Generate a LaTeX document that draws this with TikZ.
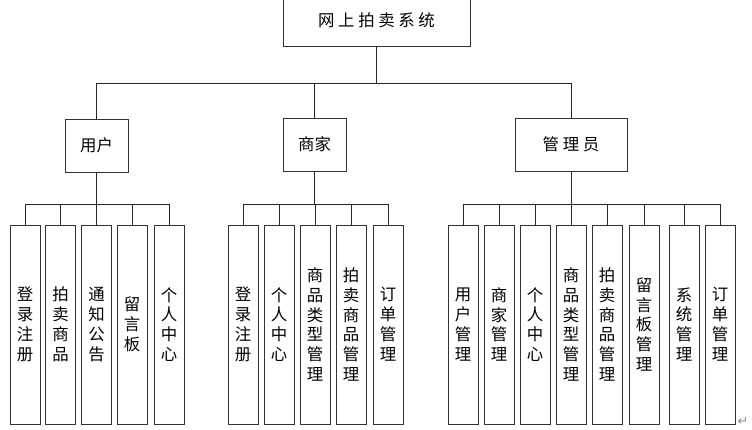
\documentclass[tikz,border=0pt]{standalone}
\usepackage{fontspec}
\newfontfamily\cjk{Noto Sans CJK SC}
\newfontfamily\symfont{DejaVu Sans}
\usepackage{tikz}
\usetikzlibrary{calc, positioning}

\tikzset{
    box/.style={draw=black!80, line width=0.8pt, fill=white, inner sep=0pt,
        font=\cjk\fontsize{14}{16}\selectfont},
    leafbox/.style={box, minimum width=0.9cm, minimum height=5.97cm, align=center,
        font=\cjk\fontsize{14}{17}\selectfont},
    link/.style={draw=black!85, line width=0.8pt}
}

\begin{document}
\begin{tikzpicture}[x=0.03cm, y=-0.03cm]

    % =================================================================
    % 1. KHUNG VA CAC DUONG NGANG
    % =================================================================
    \useasboundingbox (0,0) rectangle (752,430);
    \coordinate (bus0) at (0,83);
    \coordinate (bus1) at (0,204);

    % =================================================================
    % 2. CAC HOP CHINH
    % =================================================================
    \node[box, minimum width=5.61cm, minimum height=1.56cm] (root) at (376.5,20) {网 上 拍 卖 系 统};
    \node[box, minimum width=1.89cm, minimum height=1.59cm] (user) at (96.5,145.5) {用户};
    \node[box, minimum width=1.89cm, minimum height=1.59cm] (shop) at (314.5,144.5) {商家};
    \node[box, minimum width=3.36cm, minimum height=1.59cm] (admin) at (571,144.5) {管 理 员};

    % =================================================================
    % 3. CAC HOP CON
    % =================================================================
    % nhom nguoi dung
    \node[leafbox] (u1) at (25,324.5) {登\\录\\注\\册};
    \node[leafbox] (u2) at (60.5,324.5) {拍\\卖\\商\\品};
    \node[leafbox] (u3) at (96.5,324.5) {通\\知\\公\\告};
    \node[leafbox] (u4) at (132,324.5) {留\\言\\板};
    \node[leafbox] (u5) at (169,324.5) {个\\人\\中\\心};

    % nhom thuong gia
    \node[leafbox] (s1) at (243,324.5) {登\\录\\注\\册};
    \node[leafbox] (s2) at (279,324.5) {个\\人\\中\\心};
    \node[leafbox] (s3) at (315,324.5) {商\\品\\类\\型\\管\\理};
    \node[leafbox] (s4) at (351,324.5) {拍\\卖\\商\\品\\管\\理};
    \node[leafbox] (s5) at (388,324.5) {订\\单\\管\\理};

    % nhom quan tri
    \node[leafbox] (a1) at (463,324.5) {用\\户\\管\\理};
    \node[leafbox] (a2) at (499,324.5) {商\\家\\管\\理};
    \node[leafbox] (a3) at (535,324.5) {个\\人\\中\\心};
    \node[leafbox] (a4) at (571,324.5) {商\\品\\类\\型\\管\\理};
    \node[leafbox] (a5) at (607,324.5) {拍\\卖\\商\\品\\管\\理};
    \node[leafbox] (a6) at (644,324.5) {留\\言\\板\\管\\理};
    \node[leafbox] (a7) at (684,324.5) {系\\统\\管\\理};
    \node[leafbox] (a8) at (720,324.5) {订\\单\\管\\理};

    % dau xuong dong
    \node[text=black!45, font=\symfont\fontsize{11}{11}\selectfont, inner sep=0pt] (mark) at (743,421) {↵};

    % =================================================================
    % 4. CAC DUONG NOI
    % =================================================================
    \draw[link] (root.south) -- (root.south |- bus0);
    \foreach \p in {user, shop, admin}
        \draw[link] (\p.north) |- (root.south |- bus0);

    \draw[link] (user.south) -- (user.south |- bus1);
    \foreach \c in {u1, u2, u3, u4, u5}
        \draw[link] (\c.north) |- (user.south |- bus1);

    \draw[link] (shop.south) -- (shop.south |- bus1);
    \foreach \c in {s1, s2, s3, s4, s5}
        \draw[link] (\c.north) |- (shop.south |- bus1);

    \draw[link] (admin.south) -- (admin.south |- bus1);
    \foreach \c in {a1, a2, a3, a4, a5, a6, a7, a8}
        \draw[link] (\c.north) |- (admin.south |- bus1);

\end{tikzpicture}
\end{document}
